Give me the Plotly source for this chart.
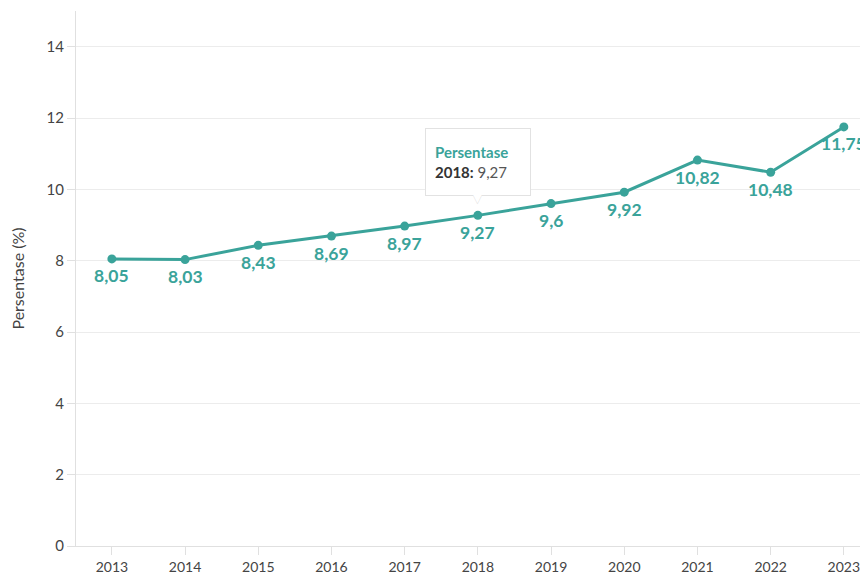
import plotly.graph_objects as go

years = [2013, 2014, 2015, 2016, 2017, 2018, 2019, 2020, 2021, 2022, 2023]
values = [8.05, 8.03, 8.43, 8.69, 8.97, 9.27, 9.6, 9.92, 10.82, 10.48, 11.75]
y_ticks = [0, 2, 4, 6, 8, 10, 12, 14]
series_name = "Persentase"
y_title = "Persentase (%)"
tooltip_year = 2018

teal = "#3aa39a"
fmt = lambda v: ("%g" % v).replace(".", ",")
labels = [fmt(v) for v in values]

fig = go.Figure()
fig.add_trace(go.Scatter(
    x=years, y=values, mode="lines+markers",
    name=series_name,
    line=dict(color=teal, width=3),
    marker=dict(color=teal, size=9),
    cliponaxis=False,
    hoverinfo="skip",
))

for yr, v, lab in zip(years, values, labels):
    fig.add_annotation(
        x=yr, y=v, xref="x", yref="y", text="<b>%s</b>" % lab,
        showarrow=False, yshift=-17, xanchor="center", yanchor="middle",
        font=dict(family="Lato, sans-serif", size=17.5, color=teal),
    )

tv = values[years.index(tooltip_year)]
fig.add_annotation(
    x=tooltip_year, y=tv, xref="x", yref="y",
    text=("<span style='color:%s'><b>%s</b></span><br>"
          "<span style='color:#333'><b>%d:</b></span> <span style='color:#555'>%s</span>")
         % (teal, series_name, tooltip_year, fmt(tv)),
    showarrow=False, yshift=53, xanchor="center", yanchor="middle",
    align="left", bgcolor="white", bordercolor="#e2e2e2", borderwidth=1,
    borderpad=9, width=86, height=48,
    font=dict(family="Lato, sans-serif", size=15),
)
fig.add_annotation(
    x=tooltip_year, y=tv, xref="x", yref="y", text="▼",
    showarrow=False, yshift=17, xanchor="center", yanchor="middle",
    font=dict(size=15, color="#e2e2e2"),
)
fig.add_annotation(
    x=tooltip_year, y=tv, xref="x", yref="y", text="▼",
    showarrow=False, yshift=18.5, xanchor="center", yanchor="middle",
    font=dict(size=15, color="white"),
)

fig.update_layout(
    width=860, height=569,
    margin=dict(l=68, r=0, t=3, b=31),
    paper_bgcolor="white", plot_bgcolor="white",
    showlegend=False,
    font=dict(family="Lato, sans-serif", size=14, color="#444"),
    xaxis=dict(
        range=[2012.51, 2023.33], tickmode="array", tickvals=years,
        ticktext=[str(y) for y in years],
        showgrid=False, showline=True, linecolor="#e0e0e0", linewidth=1,
        ticks="outside", ticklen=8, tickcolor="#e0e0e0",
        tickfont=dict(size=14, color="#444"), zeroline=False,
    ),
    yaxis=dict(
        range=[0, 15], tickmode="array", tickvals=y_ticks,
        showgrid=True, gridcolor="#ececec", gridwidth=1,
        showline=True, linecolor="#e0e0e0", linewidth=1,
        ticks="outside", ticklen=8, tickcolor="#e0e0e0",
        tickfont=dict(size=15, color="#444"), zeroline=False,
        title=dict(text=y_title, font=dict(size=16, color="#444"), standoff=18),
    ),
)

fig.write_html("out.html")
